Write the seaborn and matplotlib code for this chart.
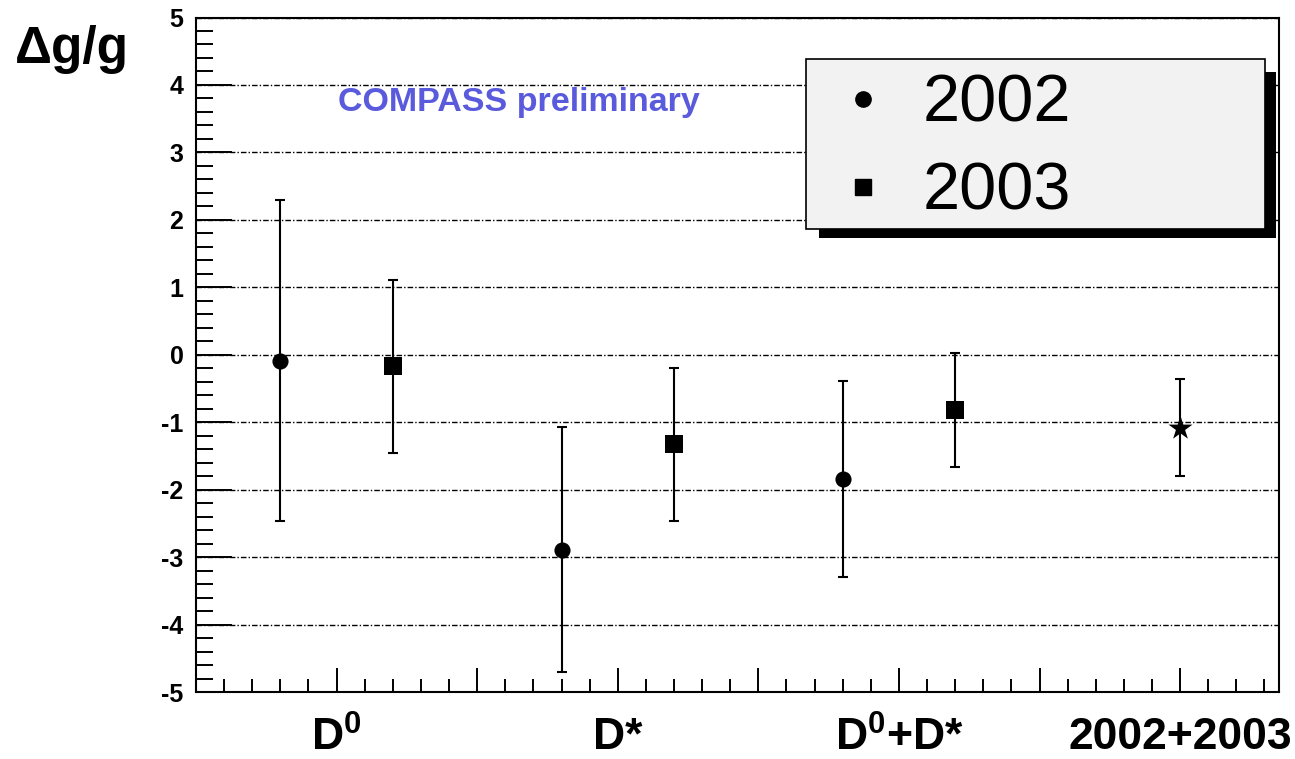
import numpy as np
import pandas as pd
import matplotlib
matplotlib.use("Agg")
import matplotlib.pyplot as plt
from matplotlib.lines import Line2D
from matplotlib.patches import Rectangle
from matplotlib.ticker import MultipleLocator
import seaborn as sns

# ---- data -------------------------------------------------------------
categories = [r"$\mathbf{D^0}$", "D*", r"$\mathbf{D^0}$+D*"]
years = ["2002", "2003"]
dgg_2002 = [-0.09, -2.89, -1.84]
err_2002 = [2.38, 1.82, 1.45]
dgg_2003 = [-0.17, -1.33, -0.82]
err_2003 = [1.28, 1.14, 0.84]
combined_label = "2002+2003"
dgg_combined = [-1.08]
err_combined = [0.72]
y_ticks = [-5, -4, -3, -2, -1, 0, 1, 2, 3, 4, 5]

# ---- style ------------------------------------------------------------
sns.set_theme(style="ticks")
plt.rcParams["font.family"] = ["Liberation Sans", "DejaVu Sans"]
plt.rcParams["mathtext.fontset"] = "custom"
plt.rcParams["mathtext.rm"] = "Liberation Sans"
plt.rcParams["mathtext.bf"] = "Liberation Sans:bold"
plt.rcParams["axes.unicode_minus"] = False
for key in ("text.color", "xtick.color", "ytick.color", "xtick.labelcolor",
            "ytick.labelcolor", "axes.edgecolor", "axes.labelcolor"):
    plt.rcParams[key] = "black"

W, H = 1295, 759
fig = plt.figure(figsize=(W / 100, H / 100), dpi=100)
fig.patch.set_facecolor("white")
ax = fig.add_axes([196 / W, 1 - 692 / H, (1278.5 - 196) / W, (692 - 17.5) / H])
ax.set_facecolor("white")

# category centres at 1, 3, 5; yearly points offset either side
centres = np.arange(len(categories)) * 2 + 1
x2002 = centres - 0.4
x2003 = centres + 0.4
x_comb = [2 * len(categories) + 1]

df = pd.concat([
    pd.DataFrame({"x": x2002, "dgg": dgg_2002, "err": err_2002, "year": years[0]}),
    pd.DataFrame({"x": x2003, "dgg": dgg_2003, "err": err_2003, "year": years[1]}),
    pd.DataFrame({"x": x_comb, "dgg": dgg_combined, "err": err_combined, "year": combined_label}),
], ignore_index=True)

ax.errorbar(df["x"], df["dgg"], yerr=df["err"], fmt="none", ecolor="black",
            elinewidth=1.5, capsize=3.5, capthick=1.5, zorder=3)

marker_style = {years[0]: ("o", 135), years[1]: ("s", 150), combined_label: ("*", 330)}
for yr, (mk, s) in marker_style.items():
    sub = df[df["year"] == yr]
    sns.scatterplot(data=sub, x="x", y="dgg", marker=mk, s=s, color="black",
                    edgecolor="black", linewidth=0, ax=ax, zorder=4, legend=False)

# ---- axes -------------------------------------------------------------
ax.set_xlim(0, 7.7)
ax.set_ylim(-5, 5)
ax.set_xlabel("")
ax.set_ylabel("")

xt = np.arange(1, 8)
xlabels = [categories[0], "", categories[1], "", categories[2], "", combined_label]
ax.set_xticks(xt)
ax.set_xticklabels(xlabels, fontsize=32, fontweight="bold")
ax.xaxis.set_minor_locator(MultipleLocator(0.2))
ax.set_yticks(y_ticks)
ax.set_yticklabels([str(v) for v in y_ticks], fontsize=18, fontweight="bold")
ax.yaxis.set_minor_locator(MultipleLocator(0.2))

ax.tick_params(axis="x", which="major", direction="in", length=17, width=1.4,
               pad=18, colors="black", top=False)
ax.tick_params(axis="x", which="minor", direction="in", length=9.5, width=1.4, top=False)
ax.tick_params(axis="y", which="major", direction="in", length=26, width=1.4,
               pad=9, colors="black", right=False)
ax.tick_params(axis="y", which="minor", direction="in", length=12, width=1.4, right=False)

for sp in ax.spines.values():
    sp.set_visible(True)
    sp.set_color("black")
    sp.set_linewidth(1.5)

ax.yaxis.grid(True, which="major", linestyle=(0, (4, 1.5, 1, 1.5)), color="black", linewidth=1.0)
ax.xaxis.grid(False)
ax.set_axisbelow(True)

fig.text(519 / W, 1 - 103 / H, "COMPASS preliminary", color="#5a5add",
         fontsize=24.5, fontweight="bold", ha="center", va="center")

fig.text(72 / W, 1 - 50 / H, "Δg/g", fontsize=37, fontweight="bold",
         ha="center", va="center", color="black")

# ---- legend box with drop shadow -------------------------------------
fig.patches.append(Rectangle((819 / W, 1 - 238 / H), (1276 - 819) / W, (238 - 72) / H,
                             transform=fig.transFigure, facecolor="black",
                             edgecolor="none", zorder=3))
fig.patches.append(Rectangle((806 / W, 1 - 229 / H), (1265 - 806) / W, (229 - 59) / H,
                             transform=fig.transFigure, facecolor="#f2f2f2",
                             edgecolor="black", linewidth=1.2, zorder=4))
handles = [
    Line2D([], [], marker="o", linestyle="none", color="black", markersize=11),
    Line2D([], [], marker="s", linestyle="none", color="black", markersize=11.5),
]
leg = fig.legend(handles, years, loc="center left",
                 bbox_to_anchor=(830 / W, 1 - 149 / H),
                 frameon=False, prop={"family": "Liberation Sans", "size": 48, "weight": "normal"},
                 handlelength=1.0, handletextpad=0.39, labelspacing=0.39,
                 borderpad=0, borderaxespad=0, labelcolor="black")
leg.set_zorder(5)

fig.savefig("out.png", dpi=100)
